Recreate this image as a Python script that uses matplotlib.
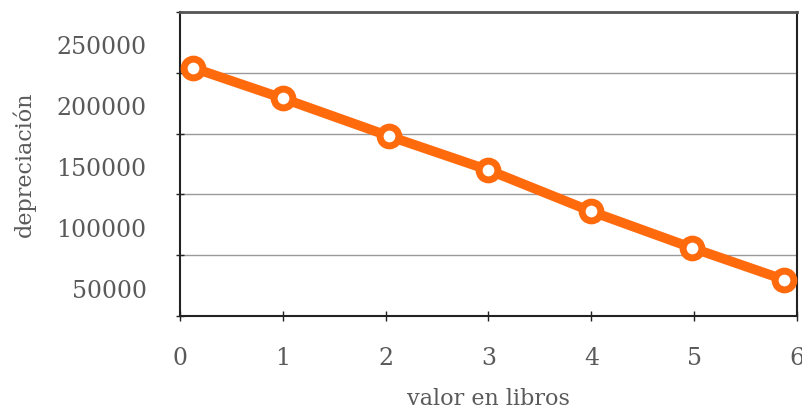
import numpy as np
import matplotlib.pyplot as plt
from matplotlib.ticker import FixedLocator, NullFormatter, FixedFormatter

# valores leidos por año
anios = [0.13, 1.0, 2.03, 3.0, 4.0, 4.98, 5.87]
valores = [204000, 179000, 148000, 120000, 86000, 56000, 30000]

y_ticks = [0, 50000, 100000, 150000, 200000, 250000]
y_etiquetas = ['50000', '100000', '150000', '200000', '250000']
x_ticks = [0, 1, 2, 3, 4, 5, 6]

NARANJA = '#ff6a0d'
GRIS_TXT = '#5a5a5a'
plt.rcParams['font.family'] = ['DejaVu Serif']

fig = plt.figure(figsize=(8.03, 4.09), dpi=100, facecolor='white')
ax = fig.add_axes([180/803, 93/409, 617/803, 304/409])

ax.plot(anios, valores, color=NARANJA, lw=7, marker='o', ms=13.5,
        mfc='white', mec=NARANJA, mew=5, clip_on=False, zorder=5)

ax.set_xlim(0, 6)
ax.set_ylim(0, 250000)

ax.set_xticks(x_ticks)
ax.set_xticklabels([str(v) for v in x_ticks])

# etiquetas del eje y desplazadas hacia abajo, entre las marcas
ax.yaxis.set_major_locator(FixedLocator(y_ticks))
ax.yaxis.set_major_formatter(NullFormatter())
ax.yaxis.set_minor_locator(FixedLocator([v - 27500 for v in y_ticks[1:]]))
ax.yaxis.set_minor_formatter(FixedFormatter(y_etiquetas))
ax.tick_params(axis='y', which='minor', length=0, pad=24,
               labelsize=17, labelcolor=GRIS_TXT)
ax.tick_params(axis='y', which='major', direction='inout', length=6,
               width=1, color='#222222')
ax.tick_params(axis='x', direction='inout', length=7, width=1,
               color='#222222', pad=19, labelsize=17, labelcolor=GRIS_TXT)

for v in y_ticks[1:-1]:
    ax.axhline(v, color='#9a9a9a', lw=1, zorder=1)

for lado in ['left', 'bottom', 'right']:
    ax.spines[lado].set_color('#222222')
    ax.spines[lado].set_linewidth(1.5)
ax.spines['top'].set_color('#555555')
ax.spines['top'].set_linewidth(2)

ax.set_xlabel('valor en libros', fontsize=16, color=GRIS_TXT, labelpad=13)
ax.set_ylabel('depreciación', fontsize=16, color=GRIS_TXT, labelpad=15)

fig.savefig('out.png', dpi=100)
